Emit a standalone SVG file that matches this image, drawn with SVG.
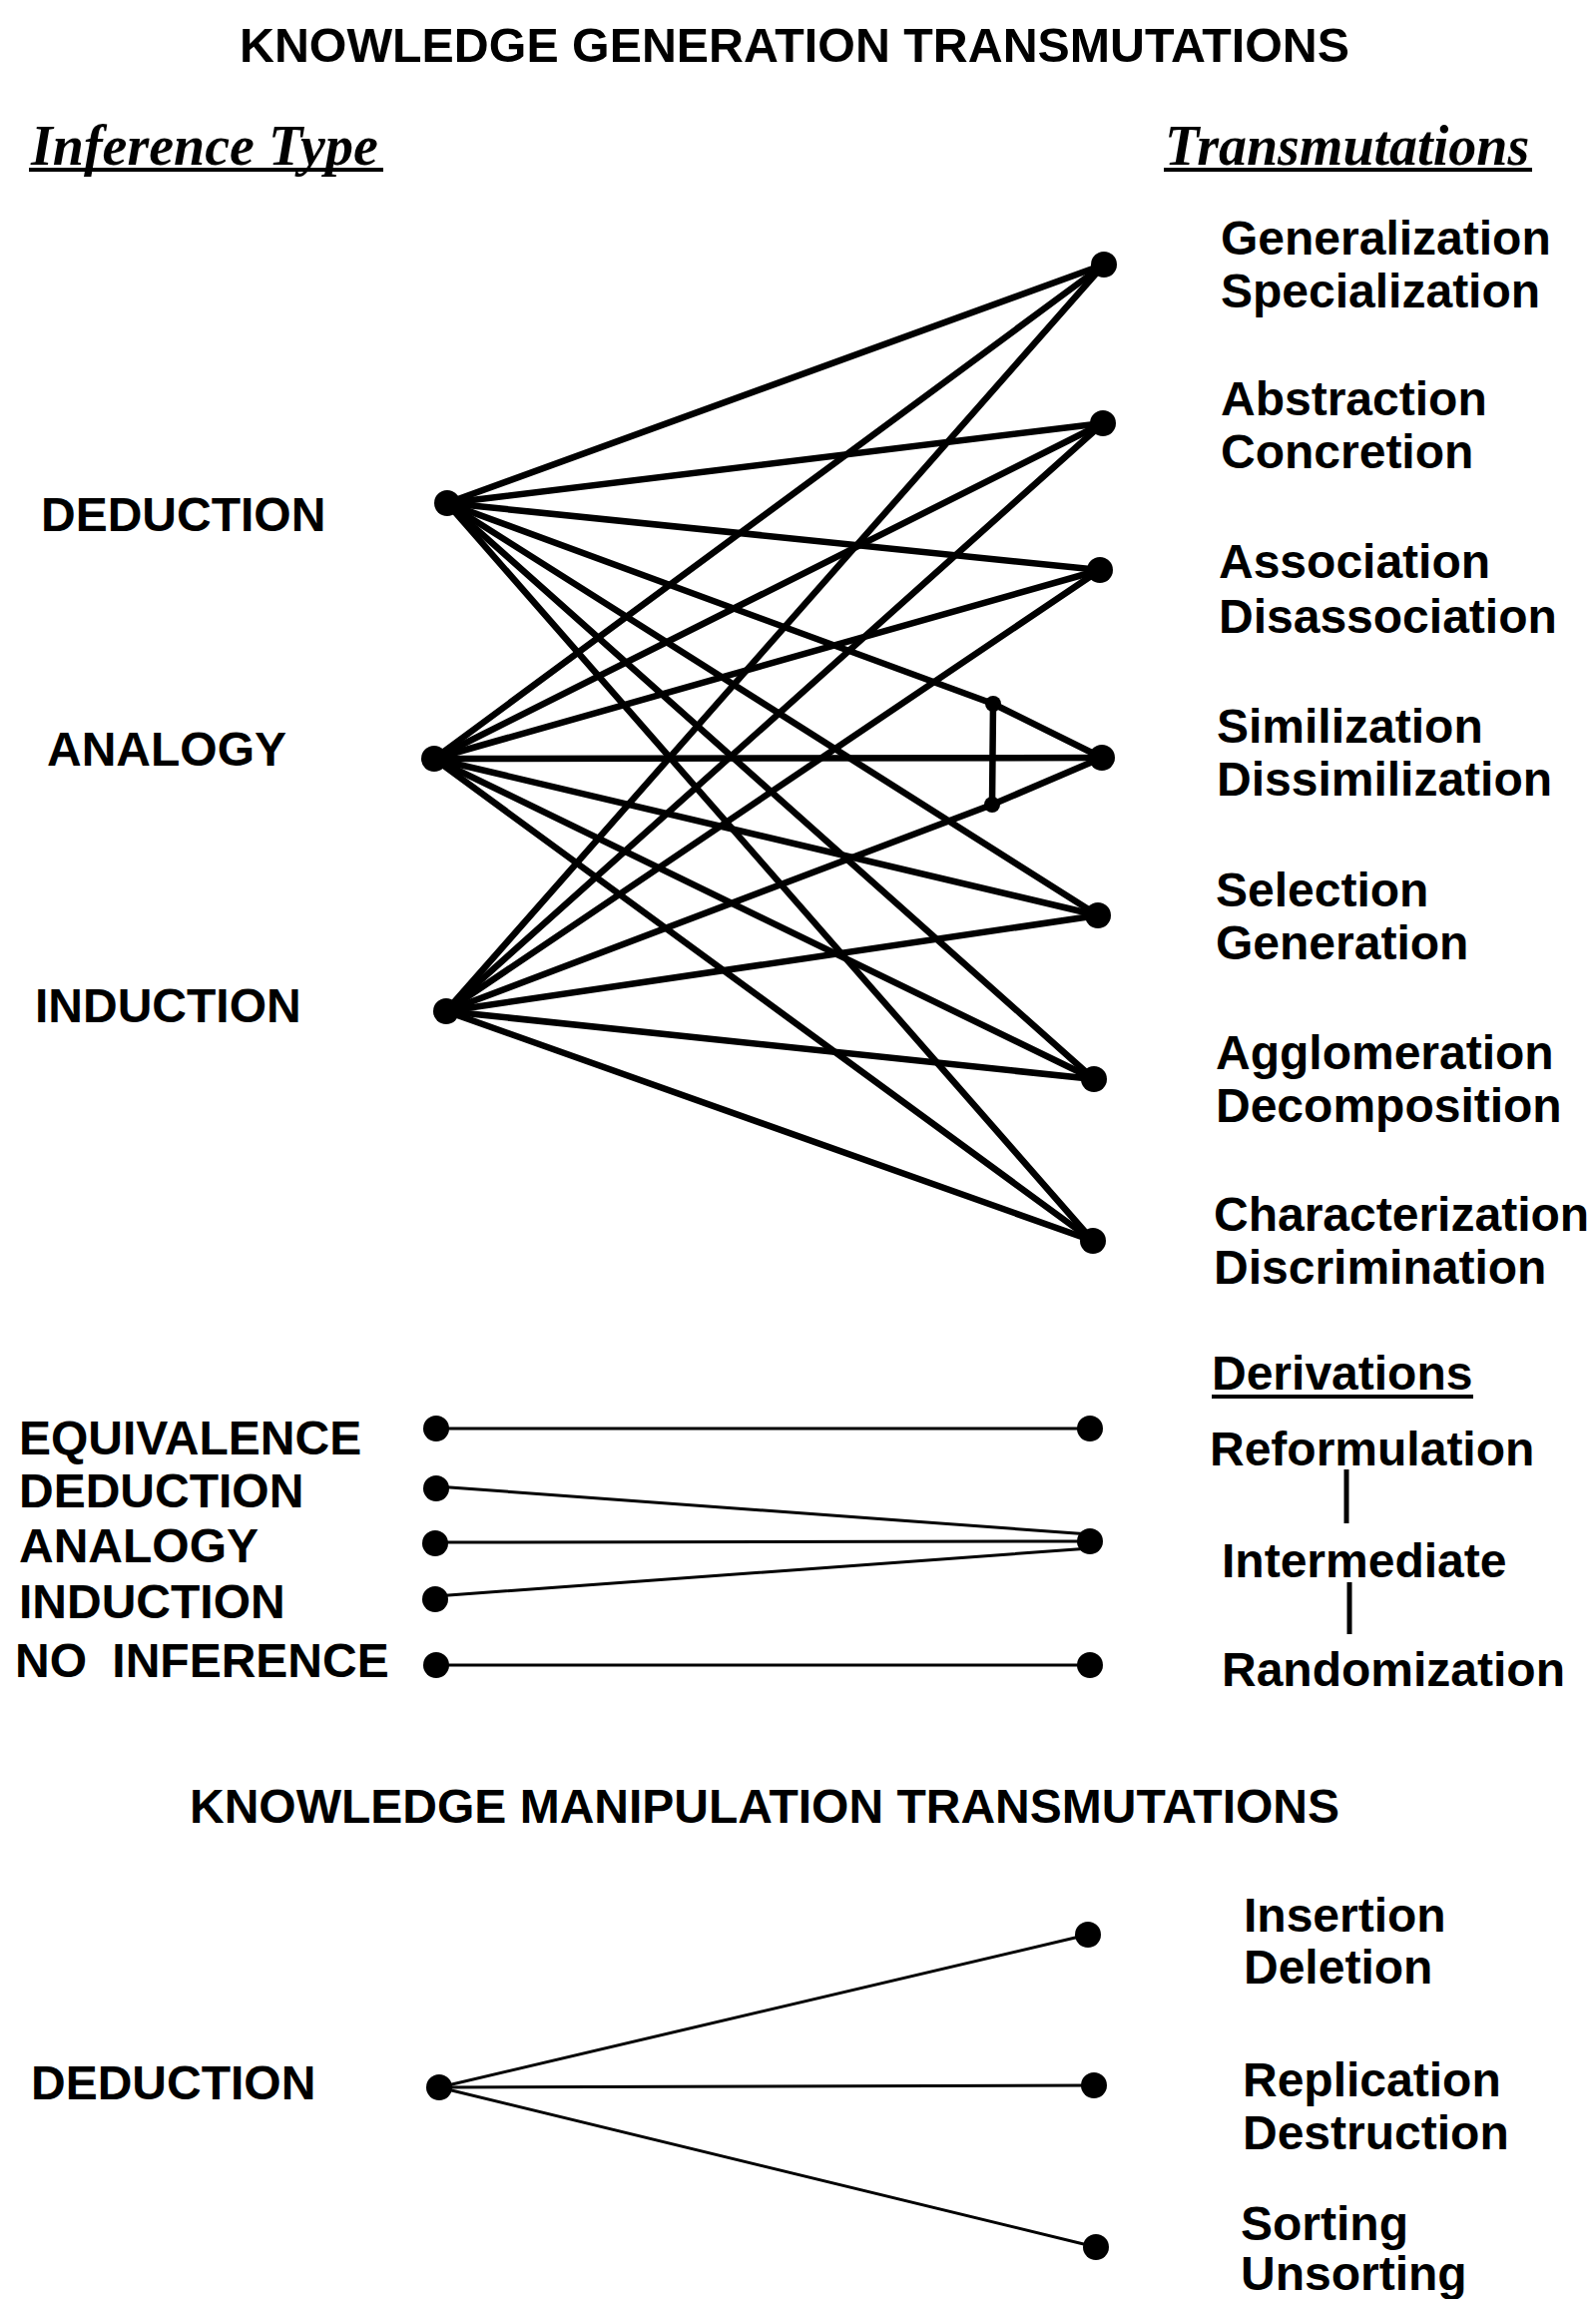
<svg xmlns="http://www.w3.org/2000/svg" width="1599" height="2303" viewBox="0 0 1599 2303">
  <style>
    .t { font-family: "Liberation Sans", Arial, sans-serif; font-weight: bold; font-size: 48px; fill: #000; }
    .head { font-family: "Liberation Serif", "Times New Roman", serif; font-weight: bold; font-style: italic; font-size: 56px; fill: #000; }
    .rule { stroke: #000; stroke-width: 4; }
    .thick { stroke: #000; stroke-width: 6.5; fill: none; stroke-linecap: round; stroke-linejoin: round; }
    .thin { stroke: #000; stroke-width: 3; fill: none; stroke-linecap: round; }
    .dot { fill: #000; }
  </style>

  <!-- headings -->
  <g id="headings">
    <text class="t" x="240" y="62" textLength="1112" lengthAdjust="spacingAndGlyphs">KNOWLEDGE GENERATION TRANSMUTATIONS</text>
    <text class="head" x="31" y="165">Inference Type</text>
    <line class="rule" x1="29" y1="170" x2="384" y2="170"/>
    <text class="head" x="1167" y="165">Transmutations</text>
    <line class="rule" x1="1166" y1="170" x2="1535" y2="170"/>
    <text class="t" x="190" y="1826" textLength="1152" lengthAdjust="spacingAndGlyphs">KNOWLEDGE MANIPULATION TRANSMUTATIONS</text>
  </g>

  <!-- connectors -->
  <g id="connectors">
    <!-- deduction -->
    <line class="thick" x1="448" y1="504" x2="1106" y2="265"/>
    <line class="thick" x1="448" y1="504" x2="1105" y2="424"/>
    <line class="thick" x1="448" y1="504" x2="1102" y2="571"/>
    <polyline class="thick" points="448,504 995,705 1104,759"/>
    <line class="thick" x1="448" y1="504" x2="1100" y2="917"/>
    <line class="thick" x1="448" y1="504" x2="1096" y2="1081"/>
    <line class="thick" x1="448" y1="504" x2="1095" y2="1243"/>
    <!-- analogy -->
    <line class="thick" x1="435" y1="760" x2="1106" y2="265"/>
    <line class="thick" x1="435" y1="760" x2="1105" y2="424"/>
    <line class="thick" x1="435" y1="760" x2="1102" y2="571"/>
    <line class="thick" x1="435" y1="760" x2="1104" y2="759"/>
    <line class="thick" x1="435" y1="760" x2="1100" y2="917"/>
    <line class="thick" x1="435" y1="760" x2="1096" y2="1081"/>
    <line class="thick" x1="435" y1="760" x2="1095" y2="1243"/>
    <!-- induction -->
    <line class="thick" x1="447" y1="1013" x2="1106" y2="265"/>
    <line class="thick" x1="447" y1="1013" x2="1105" y2="424"/>
    <line class="thick" x1="447" y1="1013" x2="1102" y2="571"/>
    <polyline class="thick" points="447,1013 994,806 1104,759"/>
    <line class="thick" x1="447" y1="1013" x2="1100" y2="917"/>
    <line class="thick" x1="447" y1="1013" x2="1096" y2="1081"/>
    <line class="thick" x1="447" y1="1013" x2="1095" y2="1243"/>
    <!-- link between the two similization joints -->
    <line class="thick" x1="995" y1="705" x2="994" y2="806"/>

    <!-- derivations -->
    <line class="thin" x1="437" y1="1431" x2="1092" y2="1431"/>
    <line class="thin" x1="437" y1="1489" x2="1092" y2="1537"/>
    <line class="thin" x1="436" y1="1545" x2="1092" y2="1544"/>
    <line class="thin" x1="436" y1="1599" x2="1092" y2="1551"/>
    <line class="thin" x1="437" y1="1668" x2="1092" y2="1668"/>
    <line class="rule" x1="1349" y1="1472" x2="1349" y2="1526" style="stroke-width:5"/>
    <line class="rule" x1="1352" y1="1585" x2="1352" y2="1637" style="stroke-width:5"/>

    <!-- manipulation -->
    <line class="thin" x1="440" y1="2091" x2="1090" y2="1938"/>
    <line class="thin" x1="440" y1="2091" x2="1096" y2="2089"/>
    <line class="thin" x1="440" y1="2091" x2="1098" y2="2251"/>
  </g>

  <!-- inference type nodes -->
  <g id="gen-deduction">
    <circle class="dot" cx="448" cy="504" r="13"/>
    <text class="t" x="41" y="532">DEDUCTION</text>
  </g>
  <g id="gen-analogy">
    <circle class="dot" cx="435" cy="760" r="13"/>
    <text class="t" x="47" y="767">ANALOGY</text>
  </g>
  <g id="gen-induction">
    <circle class="dot" cx="447" cy="1013" r="13"/>
    <text class="t" x="35" y="1024">INDUCTION</text>
  </g>

  <!-- transmutation nodes -->
  <g id="generalization">
    <circle class="dot" cx="1106" cy="265" r="13"/>
    <text class="t" x="1223" y="255">Generalization</text>
    <text class="t" x="1223" y="308">Specialization</text>
  </g>
  <g id="abstraction">
    <circle class="dot" cx="1105" cy="424" r="13"/>
    <text class="t" x="1223" y="416">Abstraction</text>
    <text class="t" x="1223" y="469">Concretion</text>
  </g>
  <g id="association">
    <circle class="dot" cx="1102" cy="571" r="13"/>
    <text class="t" x="1221" y="579">Association</text>
    <text class="t" x="1221" y="634">Disassociation</text>
  </g>
  <g id="similization">
    <circle class="dot" cx="1104" cy="759" r="13"/>
    <circle class="dot" cx="995" cy="705" r="8"/>
    <circle class="dot" cx="994" cy="806" r="8"/>
    <text class="t" x="1219" y="744">Similization</text>
    <text class="t" x="1219" y="797">Dissimilization</text>
  </g>
  <g id="selection">
    <circle class="dot" cx="1100" cy="917" r="13"/>
    <text class="t" x="1218" y="908">Selection</text>
    <text class="t" x="1218" y="961">Generation</text>
  </g>
  <g id="agglomeration">
    <circle class="dot" cx="1096" cy="1081" r="13"/>
    <text class="t" x="1218" y="1071">Agglomeration</text>
    <text class="t" x="1218" y="1124">Decomposition</text>
  </g>
  <g id="characterization">
    <circle class="dot" cx="1095" cy="1243" r="13"/>
    <text class="t" x="1216" y="1233">Characterization</text>
    <text class="t" x="1216" y="1286">Discrimination</text>
  </g>

  <!-- derivation sources -->
  <g id="der-equivalence">
    <circle class="dot" cx="437" cy="1431" r="13"/>
    <text class="t" x="19" y="1457">EQUIVALENCE</text>
  </g>
  <g id="der-deduction">
    <circle class="dot" cx="437" cy="1491" r="13"/>
    <text class="t" x="19" y="1510">DEDUCTION</text>
  </g>
  <g id="der-analogy">
    <circle class="dot" cx="436" cy="1546" r="13"/>
    <text class="t" x="19" y="1565">ANALOGY</text>
  </g>
  <g id="der-induction">
    <circle class="dot" cx="436" cy="1602" r="13"/>
    <text class="t" x="19" y="1621">INDUCTION</text>
  </g>
  <g id="der-none">
    <circle class="dot" cx="437" cy="1668" r="13"/>
    <text class="t" x="15" y="1680" word-spacing="12">NO INFERENCE</text>
  </g>

  <!-- derivation targets -->
  <g id="derivations">
    <text class="t" x="1214" y="1392">Derivations</text>
    <line class="rule" x1="1214" y1="1399" x2="1476" y2="1399"/>
  </g>
  <g id="reformulation">
    <circle class="dot" cx="1092" cy="1431" r="13"/>
    <text class="t" x="1212" y="1468">Reformulation</text>
  </g>
  <g id="intermediate">
    <circle class="dot" cx="1092" cy="1544" r="13"/>
    <text class="t" x="1224" y="1580">Intermediate</text>
  </g>
  <g id="randomization">
    <circle class="dot" cx="1092" cy="1668" r="13"/>
    <text class="t" x="1224" y="1689">Randomization</text>
  </g>

  <!-- manipulation -->
  <g id="man-deduction">
    <circle class="dot" cx="440" cy="2091" r="13"/>
    <text class="t" x="31" y="2103">DEDUCTION</text>
  </g>
  <g id="insertion">
    <circle class="dot" cx="1090" cy="1938" r="13"/>
    <text class="t" x="1246" y="1935">Insertion</text>
    <text class="t" x="1246" y="1987">Deletion</text>
  </g>
  <g id="replication">
    <circle class="dot" cx="1096" cy="2089" r="13"/>
    <text class="t" x="1245" y="2100">Replication</text>
    <text class="t" x="1245" y="2153">Destruction</text>
  </g>
  <g id="sorting">
    <circle class="dot" cx="1098" cy="2251" r="13"/>
    <text class="t" x="1243" y="2244">Sorting</text>
    <text class="t" x="1243" y="2294">Unsorting</text>
  </g>
</svg>
